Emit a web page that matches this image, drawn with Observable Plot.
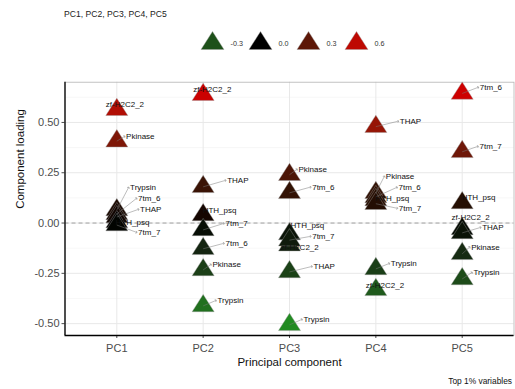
<!DOCTYPE html>
<html>
<head>
<meta charset="utf-8">
<script src="https://cdn.jsdelivr.net/npm/d3@7"></script>
<script src="https://cdn.jsdelivr.net/npm/@observablehq/plot@0.6"></script>
<style>
  body { margin: 0; background: #fff; font-family: "Liberation Sans", Arial, Helvetica, sans-serif; }
  #wrap { position: relative; width: 515px; height: 389px; overflow: hidden; background: #fff; }
  #title { position: absolute; left: 64px; top: 9px; font-size: 8.6px; line-height: 10px; color: #222; white-space: nowrap; }
  #legend { position: absolute; left: 0; top: 31px; }
  #chart { position: absolute; left: 0; top: 62px; }
  #caption { position: absolute; right: 3px; top: 376px; font-size: 8.4px; line-height: 10px; color: #111; white-space: nowrap; }
</style>
</head>
<body>
<div id="wrap">
  <div id="title">PC1, PC2, PC3, PC4, PC5</div>
  <div id="legend"></div>
  <div id="chart"></div>
  <div id="caption">Top 1% variables</div>
</div>
<script>
// ---- data ----
const components = ["PC1", "PC2", "PC3", "PC4", "PC5"];
const variables = ["zf-H2C2_2", "Pkinase", "Trypsin", "7tm_6", "THAP", "HTH_psq", "7tm_7"];
const loadingPC1 = [0.563, 0.407, 0.065, 0.045, 0.030, 0.005, -0.010];
const loadingPC2 = [0.638, -0.233, -0.412, -0.128, 0.180, 0.040, -0.034];
const loadingPC3 = [-0.110, 0.240, -0.506, 0.150, -0.243, -0.055, -0.085];
const loadingPC4 = [-0.332, 0.150, -0.228, 0.130, 0.479, 0.115, 0.096];
const loadingPC5 = [-0.029, -0.153, -0.278, 0.644, -0.049, 0.100, 0.354];
const yTicks = [-0.5, -0.25, 0, 0.25, 0.5];
const legendValues = [-0.3, 0.0, 0.3, 0.6];

// ---- label layout (pixel nudges of each label's start from its point) ----
const nudgePC1 = [[-11, -5.5], [9.3, -4.8], [13.3, -22.5], [21.3, -15.7], [23.3, -7.7], [-1.2, 0.3], [21.3, 7.3]];
const nudgePC2 = [[-10, -5.5], [9.3, -5.5], [14.3, -5.5], [22.3, -5.5], [24, -6.5], [-0.5, -4.5], [22.3, -6.5]];
const nudgePC3 = [[-9, 2], [9, -5.5], [14, -5.5], [22.7, -5.8], [24, -5.5], [1, -8.8], [22.7, -3.8]];
const nudgePC4 = [[-10, -4.5], [10, -16.5], [15, -5.5], [22.7, -9.6], [24, -5.5], [-0.5, -1.6], [23, 4.6]];
const nudgePC5 = [[-10.7, -11.8], [9, -6.8], [11.3, -6.5], [17.6, -6.2], [20, -5.5], [-0.5, -5], [17.3, -5.5]];

const loadings = [loadingPC1, loadingPC2, loadingPC3, loadingPC4, loadingPC5];
const nudges = [nudgePC1, nudgePC2, nudgePC3, nudgePC4, nudgePC5];

// ---- geometry ----
const W = 515, H = 327;
const mTop = 19.7, mBottom = 54, mLeft = 64.5, mRight = 1.5;
const xDomain = [0.4, 5.6];
const yDomain = [-0.559, 0.70];
const pxPerX = (W - mLeft - mRight) / (xDomain[1] - xDomain[0]);
const pxPerY = (H - mTop - mBottom) / (yDomain[1] - yDomain[0]);

const points = [];
components.forEach((pc, i) => {
  variables.forEach((v, j) => {
    const val = loadings[i][j];
    const [dx, dy] = nudges[i][j];
    points.push({
      pc: i + 1, variable: v, loading: val,
      lx: i + 1 + dx / pxPerX, ly: val - dy / pxPerY,
      cx: i + 1 + (dx - 1.5) / pxPerX, showLink: dx > 5
    });
  });
});
const connectors = points.filter(d => d.showLink);

const vmin = d3.min(points, d => d.loading), vmax = d3.max(points, d => d.loading);
const colorOpts = {type: "linear", domain: [vmin, 0, vmax], range: ["#228B22", "#000000", "#CD0000"], interpolate: "lab"};

const tri = {
  draw(ctx, size) {
    const r = Math.sqrt(size / Math.PI);
    const w = r * 1.467, h = r * 2.307;
    ctx.moveTo(0, -h * 2 / 3);
    ctx.lineTo(w, h / 3);
    ctx.lineTo(-w, h / 3);
    ctx.closePath();
  }
};

const font = "Liberation Sans, Arial, Helvetica, sans-serif";
const minorTicks = [-0.375, -0.125, 0.125, 0.375, 0.625];

const chart = Plot.plot({
  width: W, height: H,
  marginTop: mTop, marginBottom: mBottom, marginLeft: mLeft, marginRight: mRight,
  style: {fontFamily: font, background: "white", overflow: "visible"},
  x: {domain: xDomain},
  y: {domain: yDomain},
  color: colorOpts,
  marks: [
    Plot.gridY(minorTicks, {stroke: "#f2f2f2", strokeOpacity: 1, strokeWidth: 0.6}),
    Plot.gridY(yTicks, {stroke: "#e8e8e8", strokeOpacity: 1, strokeWidth: 1}),
    Plot.gridX([1, 2, 3, 4, 5], {stroke: "#e8e8e8", strokeOpacity: 1, strokeWidth: 1}),
    Plot.ruleY([0], {stroke: "#8c8c8c", strokeDasharray: "4,3", strokeWidth: 0.8}),
    Plot.frame({stroke: "#b3b3b3", strokeWidth: 0.8}),
    Plot.axisY(yTicks, {tickSize: 3, tickPadding: 2.5, fontSize: 11, color: "#4d4d4d", tickFormat: d => d.toFixed(2), label: null}),
    Plot.axisX([1, 2, 3, 4, 5], {tickSize: 3, tickPadding: 6, fontSize: 11, color: "#4d4d4d", tickFormat: d => components[d - 1], label: null}),
    Plot.ruleX([xDomain[0]], {stroke: "black", strokeWidth: 1.3}),
    Plot.ruleY([yDomain[0]], {stroke: "black", strokeWidth: 1.3}),
    Plot.dot(points, {x: "pc", y: "loading", fill: "loading", symbol: tri, r: 7.5, stroke: "#9a9a9a", strokeWidth: 0.4}),
    Plot.link(connectors, {x1: "pc", y1: "loading", x2: "cx", y2: "ly", stroke: "#7a7a7a", strokeWidth: 0.5, markerEnd: "arrow"}),
    Plot.text(points, {x: "lx", y: "ly", text: "variable", textAnchor: "start", fontSize: 8, fill: "#111"}),
    Plot.text(["Principal component"], {frameAnchor: "bottom", dy: 30.5, fontSize: 11.5, fill: "#111"}),
    Plot.text(["Component loading"], {frameAnchor: "left", dx: -(mLeft - 20), rotate: -90, fontSize: 11.5, fill: "#111"})
  ]
});
document.getElementById("chart").appendChild(chart);

const legend = Plot.plot({
  width: W, height: 24,
  marginTop: 0, marginBottom: 0, marginLeft: 0, marginRight: 0,
  style: {fontFamily: font, background: "transparent", overflow: "visible"},
  x: {domain: [legendValues[0], legendValues[legendValues.length - 1]], range: [212, 356], axis: null},
  color: colorOpts,
  marks: [
    Plot.dot(legendValues, {x: d => d, fill: d => d, symbol: tri, r: 7.8, stroke: "#9a9a9a", strokeWidth: 0.4, frameAnchor: "middle"}),
    Plot.text(legendValues, {x: d => d, text: d => d.toFixed(1), dx: 18, textAnchor: "start", fontSize: 7.2, fill: "#333", frameAnchor: "middle"})
  ]
});
document.getElementById("legend").appendChild(legend);
</script>
</body>
</html>
